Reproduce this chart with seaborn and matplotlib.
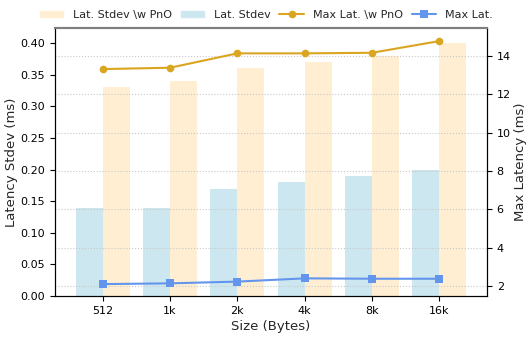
import matplotlib
matplotlib.use("Agg")
import matplotlib.pyplot as plt
import seaborn as sns
import pandas as pd
from matplotlib.patches import Patch
from matplotlib.lines import Line2D

sizes = ["512", "1k", "2k", "4k", "8k", "16k"]
stdev = [0.14, 0.14, 0.17, 0.18, 0.19, 0.20]
stdev_pno = [0.33, 0.34, 0.36, 0.37, 0.38, 0.40]
max_lat = [2.10, 2.14, 2.23, 2.40, 2.38, 2.38]
max_lat_pno = [13.32, 13.39, 14.14, 14.14, 14.17, 14.78]

sns.set_style("ticks")
plt.rcParams["font.family"] = ["DejaVu Sans"]

df = pd.DataFrame({
    "Size": sizes * 2,
    "Stdev": stdev + stdev_pno,
    "Series": ["Lat. Stdev"] * len(sizes) + ["Lat. Stdev \\w PnO"] * len(sizes),
})

fig = plt.figure(figsize=(5.32, 3.38), dpi=100)
ax1 = fig.add_axes([0.1034, 0.1243, 0.812, 0.7927])

c_blue_bar = "#add8e6"
c_gold_bar = "#ffe4b5"
c_gold = "#daa520"
c_blue = "#6495ed"

sns.barplot(data=df, x="Size", y="Stdev", hue="Series",
            hue_order=["Lat. Stdev", "Lat. Stdev \\w PnO"],
            palette=[c_blue_bar, c_gold_bar], alpha=0.6, width=0.8,
            saturation=1, linewidth=0, ax=ax1, legend=False)
ax1.set_xlim(-0.71, 5.71)
ax1.set_ylim(0, 0.424)
ax1.set_xlabel("Size (Bytes)", fontsize=9.5, labelpad=3)
ax1.set_ylabel("Latency Stdev (ms)", fontsize=9.5, labelpad=2)
ax1.tick_params(labelsize=8, colors="black")

ax2 = ax1.twinx()
xs = list(range(len(sizes)))
sns.lineplot(x=xs, y=max_lat_pno, color=c_gold, marker="o", markersize=5.5,
             markeredgewidth=0, linewidth=1.5, ax=ax2)
sns.lineplot(x=xs, y=max_lat, color=c_blue, marker="s", markersize=5.5,
             markeredgewidth=0, linewidth=1.5, ax=ax2)
ax2.set_ylim(1.48, 15.46)
ax2.set_yticks([2, 4, 6, 8, 10, 12, 14])
ax2.set_ylabel("Max Latency (ms)", fontsize=9.5, labelpad=2)
ax2.tick_params(labelsize=8, colors="black")
ax2.grid(axis="y", linestyle=":", color="#c8c8c8", linewidth=0.8)
ax2.set_xlim(-0.71, 5.71)

for ax in (ax1, ax2):
    for s in ("left", "right", "bottom"):
        ax.spines[s].set_color("black")
    ax.spines["top"].set_color("#808080")
    ax.spines["top"].set_linewidth(1.5)

handles = [
    Patch(facecolor=c_gold_bar, alpha=0.6, label="Lat. Stdev \\w PnO"),
    Patch(facecolor=c_blue_bar, alpha=0.6, label="Lat. Stdev"),
    Line2D([], [], color=c_gold, marker="o", markersize=5.5, markeredgewidth=0,
           linewidth=1.5, label="Max Lat. \\w PnO"),
    Line2D([], [], color=c_blue, marker="s", markersize=5.5, markeredgewidth=0,
           linewidth=1.5, label="Max Lat."),
]
fig.legend(handles=handles, loc="upper center", bbox_to_anchor=(0.5, 0.99),
           ncol=4, frameon=False, fontsize=8, handlelength=2.2,
           columnspacing=0.8, handletextpad=0.8, borderaxespad=0.2)

fig.savefig("out.png", dpi=100)
